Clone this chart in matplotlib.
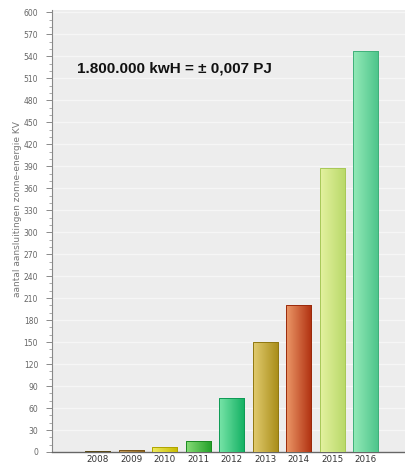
import numpy as np
import matplotlib.pyplot as plt
from matplotlib.colors import LinearSegmentedColormap
from matplotlib.ticker import MultipleLocator

years = ['2008', '2009', '2010', '2011', '2012', '2013', '2014', '2015', '2016']
values = [1, 2.5, 6.5, 15.5, 74, 150, 200, 387, 547]
# gradient colours per bar: light (left) -> dark (right)
light_colors = ['#a89050', '#c8a060', '#eeea60', '#88dc78', '#78e4a8',
                '#e2cc70', '#ec9868', '#e4f2a0', '#94eab8']
dark_colors = ['#6a5a20', '#8a6420', '#c8bc00', '#22a028', '#12b062',
               '#a88c18', '#b03010', '#b8d868', '#4cc48a']
edge_colors = ['#5a4a18', '#7a5418', '#b0a400', '#1c8a22', '#0e9a55',
               '#907812', '#9a2a0c', '#a8c858', '#40b07a']
ylabel = 'aantal aansluitingen zonne-energie KV'
note = '1.800.000 kwH = \u00b1 0,007 PJ'

fig = plt.figure(figsize=(4.06, 4.65), dpi=100)
ax = fig.add_axes([0.128, 0.028, 0.872, 0.950])
ax.set_facecolor('#ededed')

x = np.arange(len(years))
bars = ax.bar(x, values, width=0.75, color='none', edgecolor='none', zorder=3)

grad = np.linspace(0, 1, 64).reshape(1, -1)
for b, lc, dc, ec in zip(bars, light_colors, dark_colors, edge_colors):
    cmap = LinearSegmentedColormap.from_list('g', [lc, dc])
    x0, y0 = b.get_x(), b.get_y()
    w, h = b.get_width(), b.get_height()
    im = ax.imshow(grad, cmap=cmap, aspect='auto', extent=(x0, x0 + w, y0, y0 + h),
                   zorder=3, interpolation='bicubic')
    im.set_clip_path(b)
    ax.add_patch(plt.Rectangle((x0, y0), w, h, fill=False, edgecolor=ec,
                               linewidth=0.7, zorder=4))

ax.set_xlim(-1.37, 9.2)
ax.set_ylim(0, 603)
ax.set_xticks(x)
ax.set_xticklabels(years, fontsize=6.3, color='#333333')
ax.yaxis.set_major_locator(MultipleLocator(30))
ax.yaxis.set_minor_locator(MultipleLocator(10))
ax.tick_params(axis='y', labelsize=5.5, labelcolor='#666666', color='#777777',
               length=4, width=0.6, pad=6)
ax.tick_params(axis='y', which='minor', length=2, width=0.5, color='#888888')
ax.tick_params(axis='x', length=0, pad=2)
ax.grid(axis='y', color='#f6f6f6', linewidth=1.0, zorder=1)
ax.set_axisbelow(True)

for s in ['top', 'right']:
    ax.spines[s].set_visible(False)
ax.spines['left'].set_color('#888888')
ax.spines['left'].set_linewidth(0.8)
ax.spines['bottom'].set_color('#666666')
ax.spines['bottom'].set_linewidth(1.0)

ax.set_ylabel(ylabel, fontsize=6.5, color='#777777', labelpad=6)
ax.yaxis.set_label_coords(-0.085, 0.55)

ax.text(0.072, 0.869, note, transform=ax.transAxes, fontsize=11,
        fontweight='bold', family='Liberation Sans', color='#111111', va='center')

fig.savefig('out.png', dpi=100)
